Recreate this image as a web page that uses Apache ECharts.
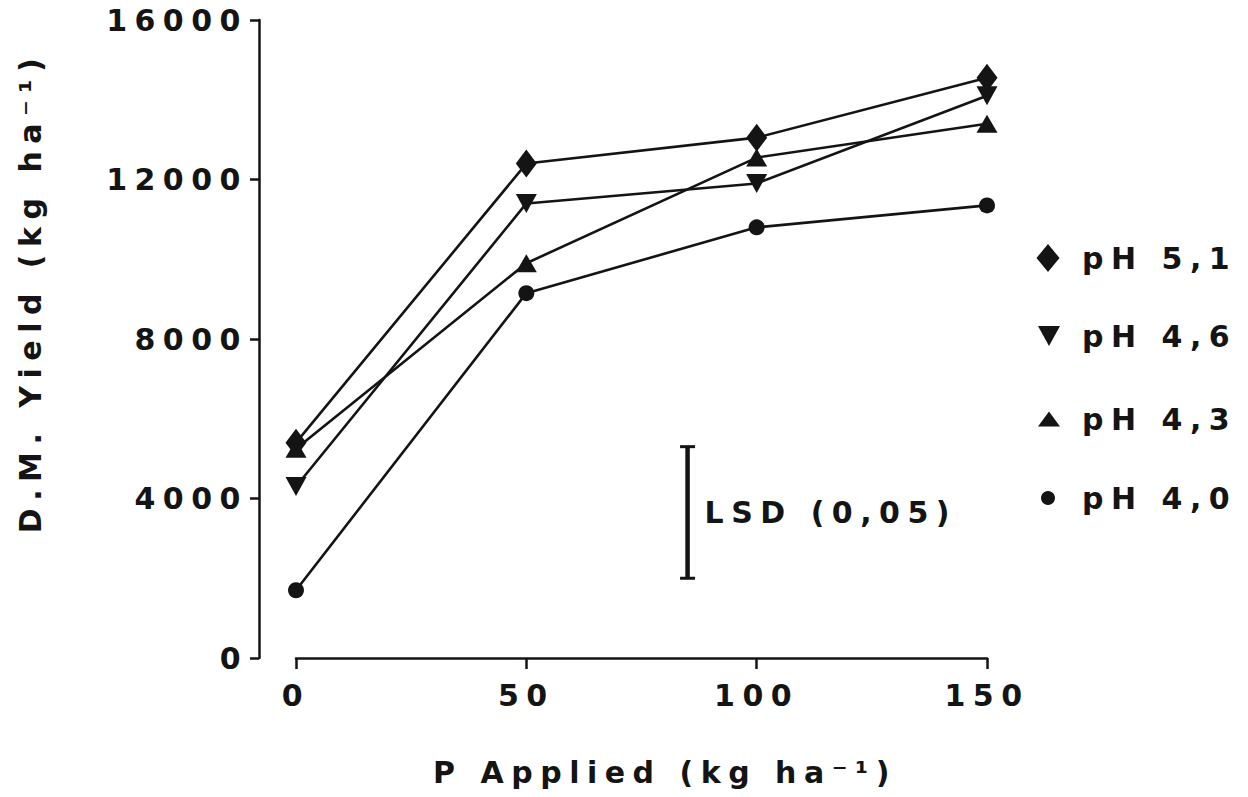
<!DOCTYPE html>
<html>
<head>
<meta charset="utf-8">
<script src="https://cdn.jsdelivr.net/npm/echarts@6/dist/echarts.min.js"></script>
<style>
  html, body { margin: 0; padding: 0; background: #ffffff; }
  #chart { width: 1248px; height: 797px; }
  /* typewriter-style spaced lettering for every label */
  #chart text { letter-spacing: 7.5px; }
</style>
</head>
<body>
<div id="chart"></div>
<script>
// P applied (kg/ha) and dry-matter yield (kg/ha) per soil pH
const pApplied = [0, 50, 100, 150];
const seriesNames = ['pH 5,1', 'pH 4,6', 'pH 4,3', 'pH 4,0'];
const yieldPH51 = [5400, 12400, 13050, 14550];
const yieldPH46 = [4300, 11400, 11900, 14100];
const yieldPH43 = [5250, 9900, 12550, 13400];
const yieldPH40 = [1700, 9150, 10800, 11350];

// least significant difference bar (P position, low, high)
const lsdX = [85];
const lsdLow = [2000];
const lsdHigh = [5300];
const lsdLabel = 'LSD (0,05)';

// axis ranges
const xTicks = [0, 50, 100, 150];
const yTicks = [0, 4000, 8000, 12000, 16000];

const INK = '#141414';
const FONT = '"DejaVu Sans", "Liberation Sans", sans-serif';
const FS = 30;

function pairs(values) {
  return pApplied.map((p, i) => [p, values[i]]);
}

const downTriangle = 'path://M0,0L20,0L10,18Z';

function lineSeries(name, values, symbol, size, rotate) {
  return {
    name: name,
    type: 'line',
    data: pairs(values),
    symbol: symbol,
    symbolSize: size,
    symbolRotate: rotate || 0,
    showAllSymbol: true,
    lineStyle: { color: INK, width: 2.6 },
    itemStyle: { color: INK },
    z: 2
  };
}

function legendBlock(name, icon, left, top, w, h, padLeft) {
  return {
    data: [{ name: name, icon: icon }],
    orient: 'vertical',
    left: left,
    top: top,
    padding: 0,
    itemWidth: w,
    itemHeight: h,
    selectedMode: false,
    itemStyle: { color: INK },
    textStyle: {
      color: INK,
      fontFamily: FONT,
      fontWeight: 'bold',
      fontSize: FS,
      lineHeight: 28,
      padding: [0, 0, 0, padLeft]
    }
  };
}

const chart = echarts.init(document.getElementById('chart'), null, { renderer: 'svg' });

chart.setOption({
  animation: false,
  backgroundColor: '#ffffff',
  color: [INK],
  grid: { left: 296, right: 261, top: 20, bottom: 139, containLabel: false },
  xAxis: {
    type: 'value',
    min: xTicks[0],
    max: xTicks[xTicks.length - 1],
    interval: xTicks[1] - xTicks[0],
    axisLine: { show: true, onZero: false, lineStyle: { color: INK, width: 2.5 } },
    axisTick: { show: true, inside: false, length: 11, lineStyle: { color: INK, width: 2.5 } },
    axisLabel: {
      color: INK, fontFamily: FONT, fontWeight: 'bold', fontSize: FS, margin: 22,
      formatter: v => String(v)
    },
    splitLine: { show: false }
  },
  yAxis: {
    type: 'value',
    min: yTicks[0],
    max: yTicks[yTicks.length - 1],
    interval: yTicks[1] - yTicks[0],
    offset: 37,
    axisLine: { show: true, onZero: false, lineStyle: { color: INK, width: 2.5 } },
    axisTick: { show: true, inside: false, length: 9, lineStyle: { color: INK, width: 2.5 } },
    axisLabel: {
      color: INK, fontFamily: FONT, fontWeight: 'bold', fontSize: FS, margin: 11,
      formatter: v => String(v)
    },
    splitLine: { show: false }
  },
  legend: [
    legendBlock(seriesNames[0], 'diamond', 1036.5, 243, 23, 28, 17.5),
    legendBlock(seriesNames[1], downTriangle, 1038, 321, 22, 20, 17),
    legendBlock(seriesNames[2], 'triangle', 1038, 404, 22, 15, 17),
    legendBlock(seriesNames[3], 'circle', 1041, 483, 14, 14, 22)
  ],
  graphic: [
    {
      type: 'text',
      x: 30,
      y: 292,
      rotation: Math.PI / 2,
      style: {
        text: 'D.M. Yield (kg ha⁻¹)',
        fill: INK,
        font: 'bold ' + FS + 'px ' + FONT,
        align: 'center',
        verticalAlign: 'middle'
      }
    },
    {
      type: 'text',
      x: 665,
      y: 772,
      style: {
        text: 'P Applied (kg ha⁻¹)',
        fill: INK,
        font: 'bold ' + FS + 'px ' + FONT,
        align: 'center',
        verticalAlign: 'middle'
      }
    }
  ],
  series: [
    lineSeries(seriesNames[0], yieldPH51, 'diamond', [21, 28]),
    lineSeries(seriesNames[1], yieldPH46, 'triangle', [21, 19], 180),
    lineSeries(seriesNames[2], yieldPH43, 'triangle', [21, 18]),
    lineSeries(seriesNames[3], yieldPH40, 'circle', 16),
    {
      name: 'LSD',
      type: 'custom',
      silent: true,
      z: 3,
      data: lsdX.map((x, i) => [x, lsdLow[i], lsdHigh[i]]),
      renderItem: function (params, api) {
        const top = api.coord([api.value(0), api.value(2)]);
        const bot = api.coord([api.value(0), api.value(1)]);
        const cap = 7.5;
        const bar = { stroke: INK, lineWidth: 4.5 };
        const capStyle = { stroke: INK, lineWidth: 3 };
        return {
          type: 'group',
          children: [
            { type: 'line', shape: { x1: top[0], y1: top[1], x2: bot[0], y2: bot[1] }, style: bar },
            { type: 'line', shape: { x1: top[0] - cap, y1: top[1], x2: top[0] + cap, y2: top[1] }, style: capStyle },
            { type: 'line', shape: { x1: bot[0] - cap, y1: bot[1], x2: bot[0] + cap, y2: bot[1] }, style: capStyle },
            {
              type: 'text',
              style: {
                text: lsdLabel,
                x: top[0] + 17,
                y: (top[1] + bot[1]) / 2,
                fill: INK,
                font: 'bold ' + FS + 'px ' + FONT,
                align: 'left',
                verticalAlign: 'middle'
              }
            }
          ]
        };
      }
    }
  ]
});
</script>
</body>
</html>
